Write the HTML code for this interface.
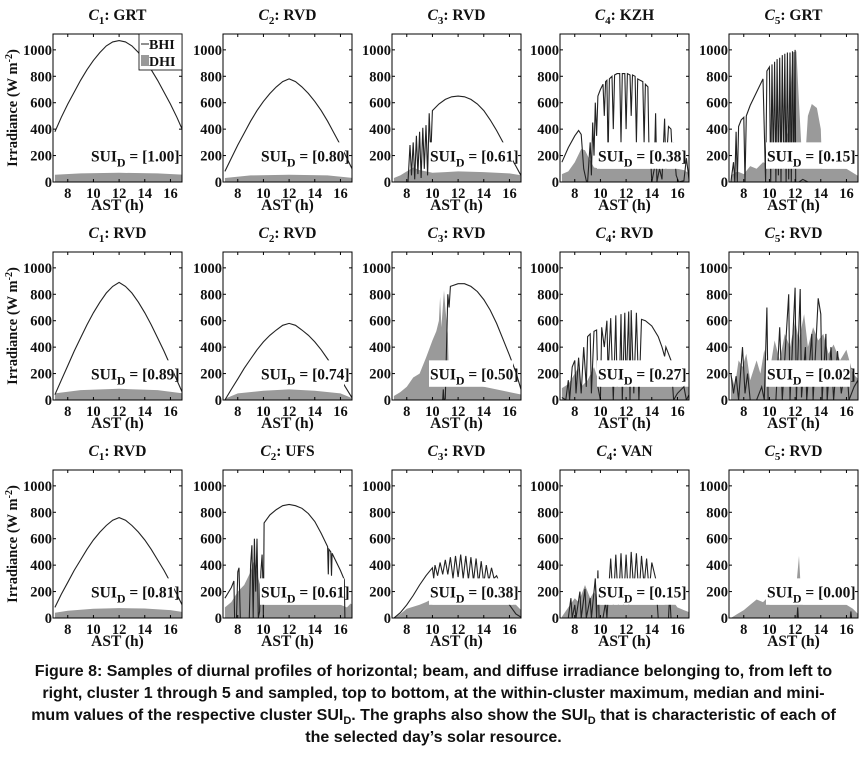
<!DOCTYPE html>
<html><head><meta charset="utf-8"><style>
body{margin:0;background:#fff;width:867px;height:764px;overflow:hidden}
svg{position:absolute;left:0;top:0}
#cap{position:absolute;left:0;top:661px;width:867px;text-align:center;font:bold 16px "Liberation Sans",sans-serif;line-height:22px;color:#111}
#cap sub{font-size:11px;vertical-align:0;position:relative;top:4px;line-height:0}
</style></head><body>
<svg id="fig" width="867" height="660"></svg>
<div id="cap">Figure 8: Samples of diurnal profiles of horizontal; beam, and diffuse irradiance belonging to, from left to<br>right, cluster 1 through 5 and sampled, top to bottom, at the within-cluster maximum, median and mini-<br>mum values of the respective cluster SUI<sub>D</sub>. The graphs also show the SUI<sub>D</sub> that is characteristic of each of<br>the selected day’s solar resource.</div>
<script>
const titlesC=[1,2,3,4,5,1,2,3,4,5,1,2,3,4,5];
const sites=["GRT","RVD","RVD","KZH","GRT","RVD","RVD","RVD","RVD","RVD","RVD","UFS","RVD","VAN","RVD"];
const sui=["1.00","0.80","0.61","0.38","0.15","0.89","0.74","0.50","0.27","0.02","0.81","0.61","0.38","0.15","0.00"];
const xTicks=[8,10,12,14,16];
const yTicks=[0,200,400,600,800,1000];
const bhi_r1c1=[[7,380],[7.5,490],[8,590],[8.5,680],[9,770],[9.5,850],[10,920],[10.5,980],[11,1030],[11.5,1060],[12,1070],[12.5,1060],[13,1030],[13.5,980],[14,920],[14.5,850],[15,770],[15.5,680],[16,590],[16.5,490],[17,380]];
const dhi_r1c1=[[7,55],[9,65],[12,70],[15,65],[17,55]];
const bhi_r1c2=[[7,80],[7.5,180],[8,280],[8.5,370],[9,460],[9.5,540],[10,610],[10.5,670],[11,720],[11.5,760],[12,780],[12.5,760],[13,720],[13.5,670],[14,610],[14.5,540],[15,460],[15.5,370],[16,280],[16.5,180],[17,80]];
const dhi_r1c2=[[7,30],[9,50],[12,55],[15,50],[17,30]];
const bhi_r1c3=[[7,0],[8.1,0],[8.25,280],[8.37,50],[8.5,300],[8.62,20],[8.75,350],[8.87,60],[9,380],[9.12,30],[9.25,410],[9.37,100],[9.5,430],[9.62,50],[9.75,520],[9.87,200],[10,540],[10.5,590],[11,625],[11.5,645],[12,650],[12.5,645],[13,625],[13.5,590],[14,540],[14.5,470],[15,390],[15.5,300],[16,210],[16.5,120],[17,30]];
const dhi_r1c3=[[7,30],[7.5,50],[8,80],[8.5,110],[9,90],[9.5,80],[10,70],[11,75],[12,80],[14,75],[16,65],[17,50]];
const bhi_r1c4=[[7,150],[7.5,260],[8,350],[8.3,390],[8.5,360],[8.7,100],[8.9,10],[9,0],[9.2,300],[9.3,50],[9.4,450],[9.5,200],[9.6,600],[9.7,350],[9.8,650],[10,700],[10.2,740],[10.3,500],[10.4,760],[10.5,770],[10.6,200],[10.7,780],[10.9,800],[11,400],[11.1,810],[11.3,820],[11.5,820],[11.6,300],[11.7,820],[11.9,820],[12,400],[12.1,820],[12.3,810],[12.4,500],[12.5,810],[12.7,800],[12.8,300],[12.9,780],[13.1,770],[13.3,760],[13.4,300],[13.5,740],[13.7,720],[13.8,150],[13.9,200],[14,0],[14.2,100],[14.3,520],[14.4,0],[14.6,100],[14.8,20],[15,480],[15.1,100],[15.3,420],[15.5,400],[15.6,200],[15.7,300],[15.9,50],[16.1,0],[16.5,10],[16.7,180],[16.8,100],[16.9,20],[17,0]];
const dhi_r1c4=[[7,60],[7.5,80],[8,150],[8.5,250],[8.8,240],[9,200],[9.5,110],[10,100],[13,100],[16,100],[16.5,90],[17,60]];
const bhi_r1c5=[[7,0],[7.2,150],[7.3,0],[7.4,380],[7.5,0],[7.6,420],[7.8,470],[8,490],[8.1,0],[8.2,500],[8.5,580],[9,680],[9.5,780],[9.7,0],[9.8,840],[10,870],[10.1,0],[10.2,890],[10.3,100],[10.4,910],[10.5,0],[10.6,930],[10.7,50],[10.8,940],[10.9,0],[11,960],[11.1,100],[11.2,970],[11.3,0],[11.4,980],[11.5,20],[11.6,980],[11.7,0],[11.8,990],[11.9,100],[12,1000],[12.05,0],[12.3,0],[12.6,20],[13,0],[17,0]];
const dhi_r1c5=[[7,50],[7.5,80],[8,60],[8.5,120],[9,100],[9.5,150],[10,130],[10.5,150],[11,250],[11.5,400],[11.8,980],[12.1,990],[12.3,600],[12.5,250],[12.8,200],[13,500],[13.3,590],[13.7,560],[14,400],[14.1,100],[16,100],[17,40]];
const bhi_r2c1=[[7,40],[7.5,150],[8,260],[8.5,370],[9,470],[9.5,570],[10,660],[10.5,740],[11,810],[11.5,860],[12,890],[12.5,860],[13,810],[13.5,740],[14,660],[14.5,570],[15,470],[15.5,370],[16,260],[16.5,150],[17,40]];
const dhi_r2c1=[[7,50],[9,75],[12,85],[15,75],[17,50]];
const bhi_r2c2=[[7,0],[7.5,80],[8,160],[8.5,240],[9,310],[9.5,380],[10,440],[10.5,490],[11,530],[11.5,565],[12,580],[12.5,565],[13,530],[13.5,490],[14,440],[14.5,380],[15,310],[15.5,240],[16,160],[16.5,80],[17,0]];
const dhi_r2c2=[[7,10],[8,50],[10,70],[12,80],[14,70],[16,50],[17,10]];
const bhi_r2c3=[[7,0],[10.8,0],[10.85,80],[10.9,0],[11,10],[11.2,800],[11.3,700],[11.4,860],[12,880],[12.5,880],[13,860],[13.5,820],[14,760],[14.5,680],[15,580],[15.5,460],[16,340],[16.5,210],[16.9,80],[17,60]];
const dhi_r2c3=[[7,30],[7.5,60],[8,100],[8.5,170],[9,200],[9.5,320],[10,450],[10.3,520],[10.5,600],[10.6,780],[10.7,550],[10.9,830],[11,700],[11.2,500],[11.3,130],[12,130],[14,100],[16,60],[17,40]];
const bhi_r2c4=[[7,20],[7.3,0],[7.5,150],[7.6,0],[7.8,250],[8,300],[8.1,50],[8.3,320],[8.5,50],[8.7,400],[8.9,100],[9,480],[9.2,500],[9.3,50],[9.5,520],[9.7,530],[9.8,100],[10,0],[10.1,550],[10.3,400],[10.5,600],[10.6,200],[10.8,620],[11,0],[11.2,640],[11.3,100],[11.5,200],[11.6,650],[11.7,0],[11.9,660],[12,100],[12.2,670],[12.3,0],[12.4,680],[12.6,50],[12.8,660],[13,0],[13.2,610],[13.5,600],[14,560],[14.5,480],[14.8,400],[15,330],[15.1,400],[15.3,350],[15.5,300],[15.7,0],[16,50],[16.5,100],[16.7,0],[17,60]];
const dhi_r2c4=[[7,90],[7.5,120],[8,200],[8.3,250],[8.5,100],[9,150],[9.5,250],[10,100],[17,100]];
const bhi_r2c5=[[7,200],[7.2,50],[7.4,180],[7.6,0],[7.9,400],[8.1,50],[8.3,200],[8.5,0],[9,0],[9.4,100],[9.6,0],[9.8,700],[9.9,0],[10.5,0],[10.8,550],[11,0],[11.5,800],[11.6,0],[12,850],[12.1,0],[12.4,840],[12.5,20],[12.8,400],[12.9,0],[13.3,500],[13.4,0],[13.8,770],[14,650],[14.1,0],[14.4,500],[14.5,0],[14.8,400],[15,0],[15.3,370],[15.6,50],[16,300],[16.2,0],[16.6,100],[16.9,150],[17,0]];
const dhi_r2c5=[[7,200],[7.3,100],[7.6,300],[7.9,250],[8.2,350],[8.5,150],[9,300],[9.3,200],[9.6,380],[10,200],[10.4,450],[10.8,300],[11.2,500],[11.6,400],[12,600],[12.3,450],[12.7,650],[13,400],[13.4,550],[13.8,450],[14.2,500],[14.6,350],[15,420],[15.5,300],[16,380],[16.5,200],[17,150]];
const bhi_r3c1=[[7,80],[7.5,180],[8,270],[8.5,360],[9,440],[9.5,520],[10,590],[10.5,650],[11,700],[11.5,740],[12,760],[12.5,740],[13,700],[13.5,650],[14,590],[14.5,520],[15,440],[15.5,360],[16,270],[16.5,180],[17,80]];
const dhi_r3c1=[[7,40],[8,55],[10,70],[12,75],[14,72],[16,60],[17,45]];
const bhi_r3c2=[[7,150],[7.5,230],[7.7,280],[7.75,0],[7.9,0],[8,350],[8.1,380],[8.2,0],[8.9,0],[9,400],[9.1,550],[9.2,0],[9.3,600],[9.4,200],[9.5,600],[9.6,0],[9.7,50],[9.8,350],[9.9,480],[9.95,300],[10,0],[10.05,720],[10.5,780],[11,820],[11.5,850],[12,860],[12.5,850],[13,830],[13.5,790],[14,730],[14.5,640],[15,540],[15.05,330],[15.1,520],[15.25,500],[15.3,320],[15.35,490],[15.5,460],[16,360],[16.3,290],[16.35,0],[16.5,0],[17,0]];
const dhi_r3c2=[[7,80],[7.5,120],[8,200],[8.5,250],[9,350],[9.3,450],[9.6,300],[9.9,200],[10,100],[16,100],[16.5,80],[16.8,110],[17,90]];
const bhi_r3c3=[[7,0],[7.5,40],[8,100],[8.5,170],[9,250],[9.5,320],[10,380],[10.1,300],[10.2,400],[10.4,320],[10.6,420],[10.8,330],[11,440],[11.2,330],[11.4,460],[11.6,300],[11.8,470],[12,310],[12.2,480],[12.4,300],[12.6,470],[12.8,290],[13,460],[13.2,280],[13.4,450],[13.6,260],[13.8,430],[14,260],[14.2,400],[14.4,280],[14.6,380],[14.8,300],[15,320],[15.5,200],[16,100],[16.5,30],[17,0]];
const dhi_r3c3=[[7,0],[7.5,30],[8,70],[9,100],[9.5,120],[9.9,140],[10,100],[16.5,100],[17,50]];
const bhi_r3c4=[[7,0],[7.5,0],[7.7,150],[7.8,0],[8,100],[8.1,0],[8.4,200],[8.5,0],[8.8,220],[8.9,0],[9.2,150],[9.3,0],[9.6,300],[9.7,0],[9.8,360],[9.9,0],[10.2,0],[10.4,120],[10.5,0],[10.8,450],[11,100],[11.2,480],[11.4,100],[11.6,490],[11.8,100],[12,480],[12.2,100],[12.4,500],[12.6,200],[12.8,490],[13,150],[13.2,470],[13.4,250],[13.6,450],[13.8,200],[14,420],[14.3,300],[14.5,0],[15.3,0],[15.4,180],[15.5,0],[17,0]];
const dhi_r3c4=[[7,10],[7.5,80],[8,150],[8.3,120],[8.8,250],[9.2,150],[9.5,200],[10,100],[15,100],[15.5,150],[16,80],[16.5,60],[17,40]];
const bhi_r3c5=[[7,0],[12.15,0],[12.2,80],[12.25,0],[16.3,0],[16.35,50],[16.4,0],[17,0]];
const dhi_r3c5=[[7,0],[7.5,30],[8,60],[8.5,100],[9,140],[9.5,120],[9.8,150],[10,100],[12,100],[12.1,250],[12.3,470],[12.4,300],[12.5,250],[12.6,100],[16,100],[16.5,70],[17,20]];
const BHI=[bhi_r1c1,bhi_r1c2,bhi_r1c3,bhi_r1c4,bhi_r1c5,bhi_r2c1,bhi_r2c2,bhi_r2c3,bhi_r2c4,bhi_r2c5,bhi_r3c1,bhi_r3c2,bhi_r3c3,bhi_r3c4,bhi_r3c5];
const DHI=[dhi_r1c1,dhi_r1c2,dhi_r1c3,dhi_r1c4,dhi_r1c5,dhi_r2c1,dhi_r2c2,dhi_r2c3,dhi_r2c4,dhi_r2c5,dhi_r3c1,dhi_r3c2,dhi_r3c3,dhi_r3c4,dhi_r3c5];

const NS="http://www.w3.org/2000/svg";
const svg=document.getElementById('fig');
const lefts=[53,223,392,560,729], tops=[34,252,470], W=129, H=148;
const X0=6.85,X1=16.9,Y1=1120;
const TF='font-family:"Liberation Serif",serif;font-weight:bold;';
function mk(tag,attrs,parent){const e=document.createElementNS(NS,tag);for(const k in attrs)e.setAttribute(k,attrs[k]);(parent||svg).appendChild(e);return e;}
for(let i=0;i<15;i++){
  const r=Math.floor(i/5),c=i%5,L=lefts[c],T=tops[r],B=T+H;
  const sx=t=>L+(t-X0)/(X1-X0)*W, sy=v=>B-v/Y1*H;
  const g=mk('g',{});
  
  
  const cp=mk('clipPath',{id:'cp'+i},g);
  mk('rect',{x:L,y:T,width:W,height:H},cp);
  const pg=mk('g',{'clip-path':'url(#cp'+i+')'},g);
  let d='M'+sx(DHI[i][0][0])+','+B;
  DHI[i].forEach(p=>{d+='L'+sx(p[0]).toFixed(1)+','+sy(p[1]).toFixed(1);});
  d+='L'+sx(DHI[i][DHI[i].length-1][0])+','+B+'Z';
  const da=mk('path',{d:d,fill:'#9a9a9a',stroke:'none'},pg);
  
  
  const pts=BHI[i].map(p=>sx(p[0]).toFixed(1)+','+sy(p[1]).toFixed(1)).join(' ');
  const bl=mk('polyline',{points:pts,fill:'none',stroke:'#222','stroke-width':1.1},pg);
  
  
  const bx=L+37,by=sy(300);
  mk('rect',{x:bx,y:by,width:W-45,height:sy(100)-by,fill:'#fff'},g);
  const st=mk('text',{x:bx+1,y:by+19,style:TF+'font-size:15.5px',fill:'#111'},g);
  
  
  st.innerHTML='SUI<tspan dy="5" font-size="12">D</tspan><tspan dy="-5"> = [</tspan>'+sui[i]+']';
  const fr=mk('rect',{x:L,y:T,width:W,height:H,fill:'none',stroke:'#000','stroke-width':1},g);
  
  
  xTicks.forEach(t=>{
    mk('line',{x1:sx(t),x2:sx(t),y1:B,y2:B-3,stroke:'#000'},g);
    mk('line',{x1:sx(t),x2:sx(t),y1:T,y2:T+3,stroke:'#000'},g);
    const tl=mk('text',{x:sx(t),y:B+16,'text-anchor':'middle',style:TF+'font-size:14.5px',fill:'#111'},g);
    
    
    tl.textContent=t;
  });
  yTicks.forEach(v=>{
    mk('line',{x1:L,x2:L+3,y1:sy(v),y2:sy(v),stroke:'#000'},g);
    mk('line',{x1:L+W,x2:L+W-3,y1:sy(v),y2:sy(v),stroke:'#000'},g);
    const tl=mk('text',{x:L-1,y:sy(v)+5,'text-anchor':'end',style:TF+'font-size:14.5px',fill:'#111'},g);
    
    
    tl.textContent=v;
  });
  const xl=mk('text',{x:L+W/2,y:B+28,'text-anchor':'middle',style:TF+'font-size:15.5px',fill:'#111'},g);
  
  
  xl.textContent='AST (h)';
  const tt=mk('text',{x:L+W/2,y:T-14,'text-anchor':'middle',style:TF+'font-size:15.5px',fill:'#111'},g);
  
  
  tt.innerHTML='<tspan font-style="italic">C</tspan><tspan dy="4" font-size="11">'+titlesC[i]+'</tspan><tspan dy="-4">: '+sites[i]+'</tspan>';
  if(c===0){
    const yl=mk('text',{transform:'translate(17,'+(T+H/2)+') rotate(-90)','text-anchor':'middle',style:TF+'font-size:14.5px',fill:'#111'},g);
    
    
    yl.innerHTML='Irradiance (W m<tspan dy="-5" font-size="10">-2</tspan><tspan dy="5">)</tspan>';
  }
  if(i===0){
    const lg=mk('g',{},g);
    
    
    mk('rect',{x:L+W-43,y:T,width:43,height:36,fill:'#fff',stroke:'#000','stroke-width':0.8},lg);
    mk('line',{x1:L+W-41,x2:L+W-33,y1:T+10,y2:T+10,stroke:'#222'},lg);
    const t1=mk('text',{x:L+W-33,y:T+15,style:TF+'font-size:14px',fill:'#111'},lg);t1.textContent='BHI';
    mk('rect',{x:L+W-41,y:T+21,width:8,height:11,fill:'#9a9a9a'},lg);
    const t2=mk('text',{x:L+W-33,y:T+32,style:TF+'font-size:14px',fill:'#111'},lg);t2.textContent='DHI';
  }
}
</script>
</body></html>
